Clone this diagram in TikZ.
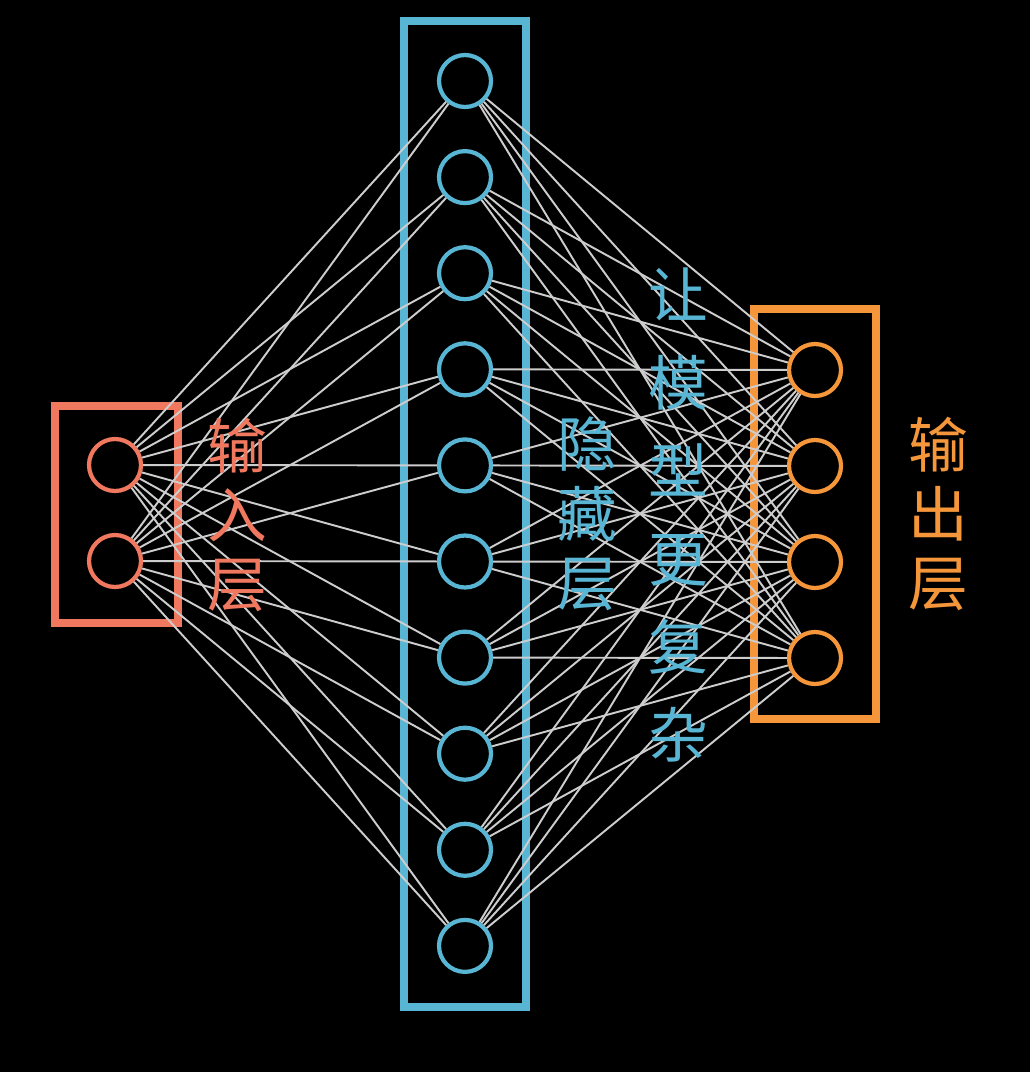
\documentclass[tikz,border=0pt]{standalone}
\usepackage{fontspec}
\newfontfamily\cjk{Noto Sans CJK SC}
\definecolor{inred}{RGB}{240,120,95}
\definecolor{hidblue}{RGB}{88,182,212}
\definecolor{outorange}{RGB}{245,150,58}
\definecolor{wire}{RGB}{205,205,205}

\begin{document}
\begin{tikzpicture}[x=0.02cm, y=-0.02cm,
    neuron/.style={circle, draw, line width=2.4pt, minimum size=1.04cm, inner sep=0pt},
    layerbox/.style={line width=4.4pt},
    link/.style={draw=wire, line width=1.1pt},
    layername/.style={align=center, inner sep=0pt, font=\cjk\fontsize{34}{39.5}\selectfont},
    remark/.style={layername, font=\cjk\fontsize{34}{50}\selectfont}
  ]
  \fill[black] (0,0) rectangle (1030,1072);

  % layer frames
  \draw[layerbox, inred] (55,406) rectangle (178,623);
  \draw[layerbox, hidblue] (404,21) rectangle (526,1007);
  \draw[layerbox, outorange] (754,309) rectangle (876,719);

  % neurons
  \foreach \i/\y in {1/465,2/561}
    \node[neuron, inred] (in\i) at (115,\y) {};
  \foreach \i in {1,...,10}
    \node[neuron, hidblue] (hid\i) at (465,{81+96.1*(\i-1)}) {};
  \foreach \i in {1,...,4}
    \node[neuron, outorange] (out\i) at (815,{370+96*(\i-1)}) {};

  % connections
  \foreach \i in {1,2}
    \foreach \j in {1,...,10}
      \draw[link] (in\i) -- (hid\j);
  \foreach \j in {1,...,10}
    \foreach \k in {1,...,4}
      \draw[link] (hid\j) -- (out\k);

  % labels
  \node[layername, inred] (inname) at (237,515) {输\\入\\层};
  \node[layername, hidblue] (hidname) at (587,514) {隐\\藏\\层};
  \node[remark, hidblue] (complex) at (678,515) {让\\模\\型\\更\\复\\杂};
  \node[layername, outorange] (outname) at (938,514) {输\\出\\层};
\end{tikzpicture}
\end{document}
